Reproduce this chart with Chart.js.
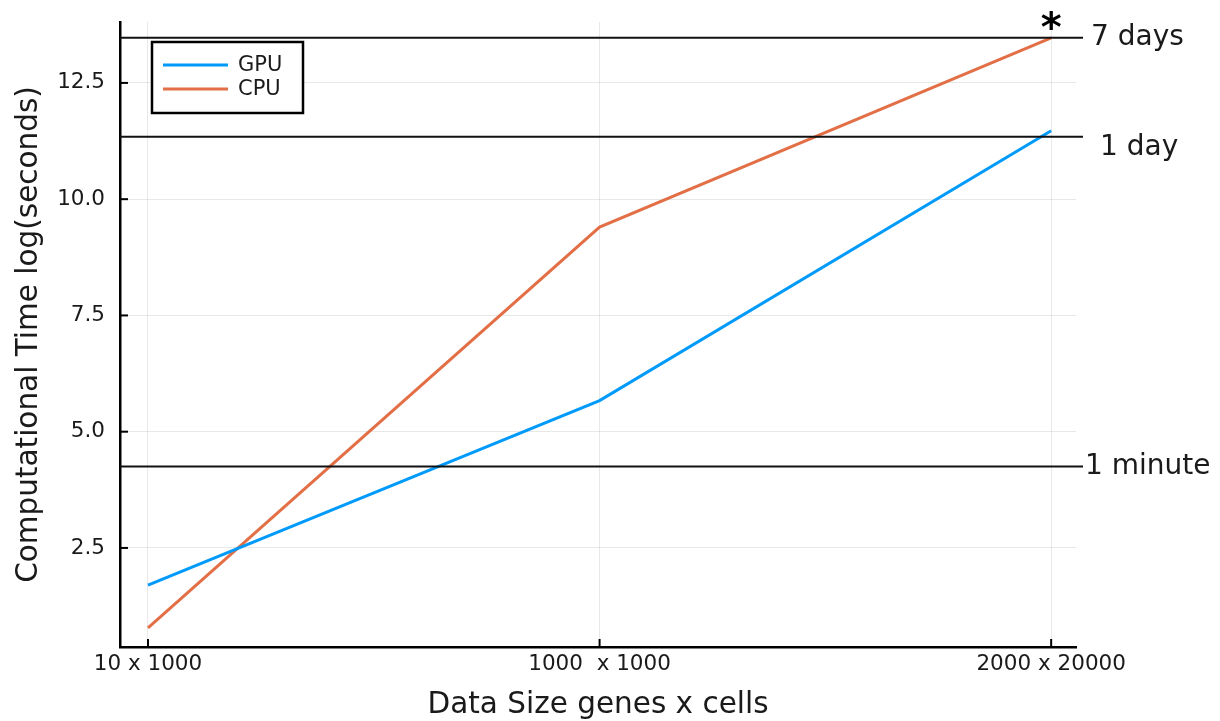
<!DOCTYPE html>
<html>
<head>
<meta charset="utf-8">
<script src="https://cdn.jsdelivr.net/npm/chart.js@4.4.0/dist/chart.umd.min.js"></script>
<style>
  html, body { margin: 0; padding: 0; background: #fff; }
  #wrap { width: 1220px; height: 721px; }
</style>
</head>
<body>
<div id="wrap"><canvas id="timeChart" width="1220" height="721"></canvas></div>
<script>
// data
const xPositions = [1, 2, 3];
const xLabels = ["10 x 1000", "1000  x 1000", "2000 x 20000"];
const gpuTimes = [1.70, 5.67, 11.47];
const cpuTimes = [0.78, 9.40, 13.47];
const yTicks = [2.5, 5.0, 7.5, 10.0, 12.5];
const refValues = [13.47, 11.34, 4.25];
const refLabels = ["7 days", "1 day", "1 minute"];

const fontName = "'DejaVu Sans', sans-serif";
const textColor = "#1a1a1a";

function toPoints(arr) {
  return arr.map((v, i) => ({ x: xPositions[i], y: v }));
}

// reference lines, labels, star, inward ticks, legend box
const extrasPlugin = {
  id: "extras",
  afterDatasetsDraw(chart) {
    const ctx = chart.ctx;
    const area = chart.chartArea;
    const xs = chart.scales.x;
    const ys = chart.scales.y;
    ctx.save();

    // inward tick marks
    ctx.strokeStyle = "#000";
    ctx.lineWidth = 2;
    yTicks.forEach((v) => {
      let py = ys.getPixelForValue(v);
      ctx.beginPath();
      ctx.moveTo(area.left, py);
      ctx.lineTo(area.left + 8, py);
      ctx.stroke();
    });
    xPositions.forEach((v) => {
      let px = xs.getPixelForValue(v);
      ctx.beginPath();
      ctx.moveTo(px, area.bottom);
      ctx.lineTo(px, area.bottom - 8);
      ctx.stroke();
    });

    // horizontal reference lines
    const labelShift = [[15, 0], [24, 11], [9, 0]];
    ctx.lineWidth = 2;
    ctx.strokeStyle = "#111";
    ctx.font = "28px " + fontName;
    ctx.fillStyle = textColor;
    ctx.textBaseline = "middle";
    ctx.textAlign = "left";
    refValues.forEach((v, i) => {
      let py = ys.getPixelForValue(v);
      ctx.beginPath();
      ctx.moveTo(area.left, py);
      ctx.lineTo(area.right + 7, py);
      ctx.stroke();
      ctx.fillText(refLabels[i], area.right + labelShift[i][0], py + labelShift[i][1]);
    });

    // star over the last point
    ctx.font = "bold 40px " + fontName;
    ctx.textAlign = "center";
    ctx.textBaseline = "alphabetic";
    ctx.fillStyle = "#000";
    ctx.fillText("*", xs.getPixelForValue(xPositions[2]), 41);

    // legend
    const bx = 152, by = 42, bw = 151, bh = 71;
    ctx.fillStyle = "#fff";
    ctx.fillRect(bx, by, bw, bh);
    ctx.lineWidth = 2.5;
    ctx.strokeStyle = "#000";
    ctx.strokeRect(bx, by, bw, bh);
    ctx.font = "21px " + fontName;
    ctx.textAlign = "left";
    ctx.textBaseline = "middle";
    chart.data.datasets.forEach((ds, i) => {
      let ly = by + 23 + i * 24;
      ctx.strokeStyle = ds.borderColor;
      ctx.lineWidth = 3;
      ctx.beginPath();
      ctx.moveTo(bx + 11, ly);
      ctx.lineTo(bx + 76, ly);
      ctx.stroke();
      ctx.fillStyle = textColor;
      ctx.fillText(ds.label, bx + 86, ly + 1);
    });

    ctx.restore();
  },
};

new Chart(document.getElementById("timeChart"), {
  type: "line",
  plugins: [extrasPlugin],
  data: {
    datasets: [
      {
        label: "GPU",
        data: toPoints(gpuTimes),
        borderColor: "#009AFA",
        borderWidth: 3,
        pointRadius: 0,
        tension: 0,
      },
      {
        label: "CPU",
        data: toPoints(cpuTimes),
        borderColor: "#E26F46",
        borderWidth: 3,
        pointRadius: 0,
        tension: 0,
      },
    ],
  },
  options: {
    responsive: false,
    animation: false,
    layout: { padding: { top: 22, right: 144, left: 0, bottom: 0 } },
    plugins: {
      legend: { display: false },
      tooltip: { enabled: false },
    },
    scales: {
      x: {
        type: "linear",
        min: 0.938,
        max: 3.055,
        afterBuildTicks: (scale) => {
          scale.ticks = xPositions.map((v) => ({ value: v }));
        },
        afterFit: (scale) => {
          scale.height = 74;
          scale.paddingLeft = 0;
          scale.paddingRight = 0;
        },
        ticks: {
          font: { family: fontName, size: 21.5 },
          color: textColor,
          padding: 5,
          maxRotation: 0,
          autoSkip: false,
          callback: (value) => xLabels[xPositions.indexOf(value)],
        },
        grid: { color: "rgba(0,0,0,0.09)", lineWidth: 1, drawTicks: false },
        border: { display: true, color: "#000", width: 2.5 },
        title: {
          display: true,
          text: "Data Size genes x cells",
          font: { family: fontName, size: 29.5 },
          color: textColor,
          padding: { top: 0, bottom: -2 },
        },
      },
      y: {
        min: 0.37,
        max: 13.81,
        afterBuildTicks: (scale) => {
          scale.ticks = yTicks.map((v) => ({ value: v }));
        },
        afterFit: (scale) => {
          scale.width = 120;
          scale.paddingTop = 0;
          scale.paddingBottom = 0;
        },
        ticks: {
          font: { family: fontName, size: 21.5 },
          color: textColor,
          padding: 15,
          callback: (value) => value.toFixed(1),
        },
        grid: { color: "rgba(0,0,0,0.09)", lineWidth: 1, drawTicks: false },
        border: { display: true, color: "#000", width: 2.5 },
        title: {
          display: true,
          text: "Computational Time log(seconds)",
          font: { family: fontName, size: 29.5 },
          color: textColor,
          padding: { top: 12, bottom: 0 },
        },
      },
    },
  },
});
</script>
</body>
</html>
